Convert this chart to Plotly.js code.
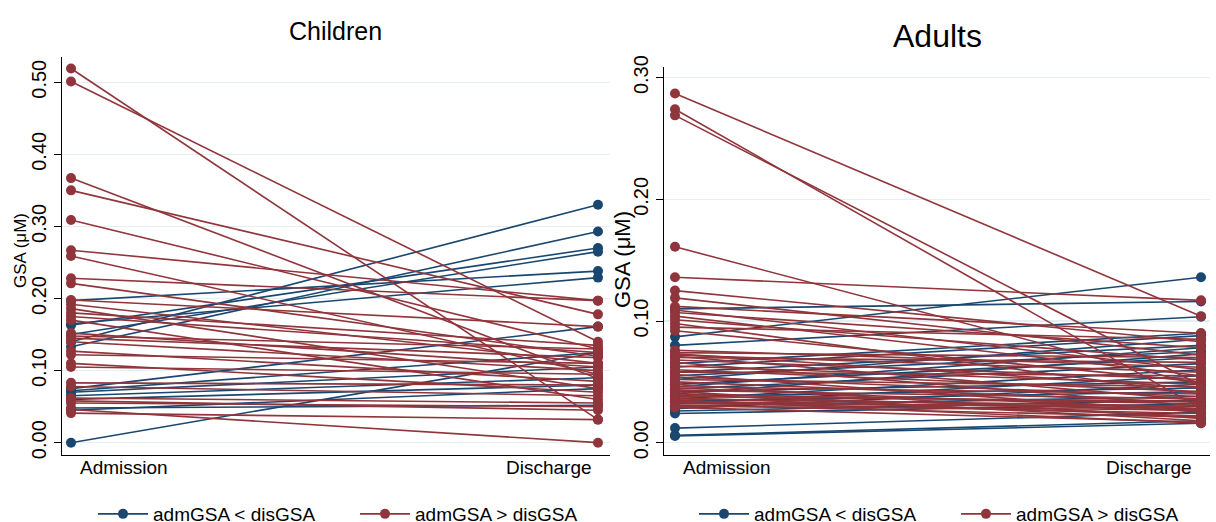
<!DOCTYPE html>
<html>
<head>
<meta charset="utf-8">
<script src="https://cdn.plot.ly/plotly-3.0.1.min.js"></script>
<style>html,body{margin:0;padding:0;background:#fff;}#chart{width:1216px;height:522px;}</style>
</head>
<body>
<div id="chart"></div>
<script>
// ---------- data ----------
const timepoints = ["Admission", "Discharge"];
const seriesNames = ["admGSA < disGSA", "admGSA > disGSA"];
const panelTitles = ["Children", "Adults"];
const yTitle = "GSA (\u03bcM)";

// Children: admission < discharge (blue)
const childUpAdm = [0.197, 0.165, 0.163, 0.150, 0.140, 0.133, 0.075, 0.072, 0.070, 0.065, 0.060, 0.048, 0.045, 0.000];
const childUpDis = [0.238, 0.229, 0.270, 0.265, 0.330, 0.293, 0.161, 0.125, 0.105, 0.090, 0.080, 0.052, 0.075, 0.125];
// Children: admission > discharge (red)
const childDownAdm = [0.519, 0.501, 0.367, 0.350, 0.309, 0.267, 0.259, 0.228, 0.221, 0.198, 0.192, 0.186, 0.180, 0.175, 0.170,
                      0.152, 0.148, 0.145, 0.140, 0.127, 0.122, 0.110, 0.105, 0.083, 0.078, 0.062, 0.058, 0.055, 0.046, 0.041];
const childDownDis = [0.032, 0.140, 0.089, 0.178, 0.130, 0.197, 0.095, 0.197, 0.120, 0.161, 0.110, 0.075, 0.135, 0.125, 0.060,
                      0.105, 0.130, 0.118, 0.100, 0.085, 0.110, 0.070, 0.095, 0.080, 0.065, 0.055, 0.045, 0.050, 0.000, 0.032];

// Adults: admission < discharge (blue)
const adultUpAdm = [0.110, 0.087, 0.080, 0.065, 0.062, 0.058, 0.055, 0.052, 0.048, 0.046, 0.044, 0.042, 0.040, 0.038,
                    0.036, 0.034, 0.032, 0.030, 0.028, 0.026, 0.024, 0.012, 0.006, 0.0055];
const adultUpDis = [0.116, 0.136, 0.1035, 0.090, 0.088, 0.080, 0.075, 0.085, 0.070, 0.078, 0.065, 0.050, 0.073, 0.045,
                    0.060, 0.042, 0.055, 0.038, 0.048, 0.035, 0.032, 0.025, 0.018, 0.016];
// Adults: admission > discharge (red)
const adultDownAdm = [0.287, 0.274, 0.269, 0.161, 0.136, 0.125, 0.119, 0.112, 0.109, 0.107, 0.104, 0.101, 0.098, 0.095, 0.092,
                      0.076, 0.074, 0.073, 0.072, 0.071, 0.070, 0.068, 0.066, 0.063, 0.060, 0.058, 0.056, 0.054, 0.052, 0.050,
                      0.048, 0.046, 0.045, 0.043, 0.042, 0.040, 0.039, 0.038, 0.037, 0.036, 0.035, 0.034, 0.033, 0.032, 0.031,
                      0.030, 0.029];
const adultDownDis = [0.104, 0.028, 0.047, 0.047, 0.117, 0.083, 0.072, 0.090, 0.060, 0.078, 0.055, 0.068, 0.040, 0.085, 0.050,
                      0.062, 0.070, 0.045, 0.058, 0.035, 0.066, 0.052, 0.030, 0.048, 0.042, 0.055, 0.025, 0.038, 0.046, 0.033,
                      0.020, 0.040, 0.028, 0.036, 0.018, 0.032, 0.026, 0.034, 0.022, 0.030, 0.016, 0.028, 0.024, 0.030, 0.021,
                      0.027, 0.017];

const childTicks = [0, 0.1, 0.2, 0.3, 0.4, 0.5];
const adultTicks = [0, 0.1, 0.2, 0.3];

// ---------- styling ----------
const BLUE = "#1a476f";
const RED = "#90353b";
const FONT = "Arial, 'Liberation Sans', sans-serif";
const W = 1216, H = 522;
const px = v => v / W;
const py = v => 1 - v / H;

function pairs(adm, dis) {
  const x = [], y = [];
  adm.forEach((a, i) => { x.push(0, 1, null); y.push(a, dis[i], null); });
  return {x, y};
}
function trace(adm, dis, color, name, xa, ya, leg) {
  const p = pairs(adm, dis);
  return {
    type: "scatter", mode: "lines+markers", x: p.x, y: p.y, xaxis: xa, yaxis: ya,
    name: name, legend: leg, connectgaps: false, hoverinfo: "skip",
    line: {color: color, width: 1.6},
    marker: {color: color, size: 10, symbol: "circle"}
  };
}

const data = [
  trace(childUpAdm, childUpDis, BLUE, seriesNames[0], "x", "y", "legend"),
  trace(childDownAdm, childDownDis, RED, seriesNames[1], "x", "y", "legend"),
  trace(adultUpAdm, adultUpDis, BLUE, seriesNames[0], "x2", "y2", "legend2"),
  trace(adultDownAdm, adultDownDis, RED, seriesNames[1], "x2", "y2", "legend2")
];

function yax(anchor, domain, range, ticks) {
  return {
    anchor: anchor, domain: domain, range: range, tickvals: ticks, tickformat: ".2f", tickangle: -90,
    showline: true, linecolor: "#000", linewidth: 1.2, ticks: "outside", ticklen: 7, tickcolor: "#000",
    showgrid: true, gridcolor: "#e6eef1", gridwidth: 1.2, zeroline: false, automargin: false,
    tickfont: {family: FONT, size: 20, color: "#000"}, fixedrange: true
  };
}
function xax(anchor, domain, range) {
  return {
    anchor: anchor, domain: domain, range: range, showline: true, linecolor: "#000", linewidth: 1.2,
    showgrid: false, zeroline: false, showticklabels: false, ticks: "", fixedrange: true, automargin: false
  };
}

const ann = [];
function txt(t, x, y, size, angle) {
  ann.push({text: t, xref: "paper", yref: "paper", x: px(x), y: py(y), xanchor: "center", yanchor: "middle",
    showarrow: false, textangle: angle || 0, font: {family: FONT, size: size, color: "#000"}});
}
txt(panelTitles[0], 335, 31, 25);
txt(panelTitles[1], 937, 36, 32);
txt(yTitle, 20, 251, 17, -90);
txt(yTitle, 622, 260, 22, -90);
txt(timepoints[0], 124, 467, 19);
txt(timepoints[1], 549, 467, 19);
txt(timepoints[0], 727, 467, 19);
txt(timepoints[1], 1149, 467, 19);

const legendBase = {
  orientation: "h", yanchor: "middle", xanchor: "left", bgcolor: "rgba(0,0,0,0)",
  font: {family: FONT, size: 19, color: "#000"}, itemwidth: 50, tracegroupgap: 0,
  entrywidth: 197, entrywidthmode: "pixels"
};

const layout = {
  width: W, height: H, margin: {l: 0, r: 0, t: 0, b: 0, autoexpand: false},
  paper_bgcolor: "#fff", plot_bgcolor: "#fff",
  xaxis: xax("y", [px(62), px(610)], [-0.0171, 1.0228]),
  yaxis: yax("x", [py(455), py(57)], [-0.0171, 0.535], childTicks),
  xaxis2: xax("y2", [px(664), px(1210)], [-0.0209, 1.0171]),
  yaxis2: yax("x2", [py(455), py(66.7)], [-0.0101, 0.309], adultTicks),
  legend: Object.assign({x: px(93), y: py(514)}, legendBase),
  legend2: Object.assign({x: px(694), y: py(514)}, legendBase),
  annotations: ann,
  showlegend: true
};

Plotly.newPlot("chart", data, layout, {displayModeBar: false, staticPlot: true});
</script>
</body>
</html>
